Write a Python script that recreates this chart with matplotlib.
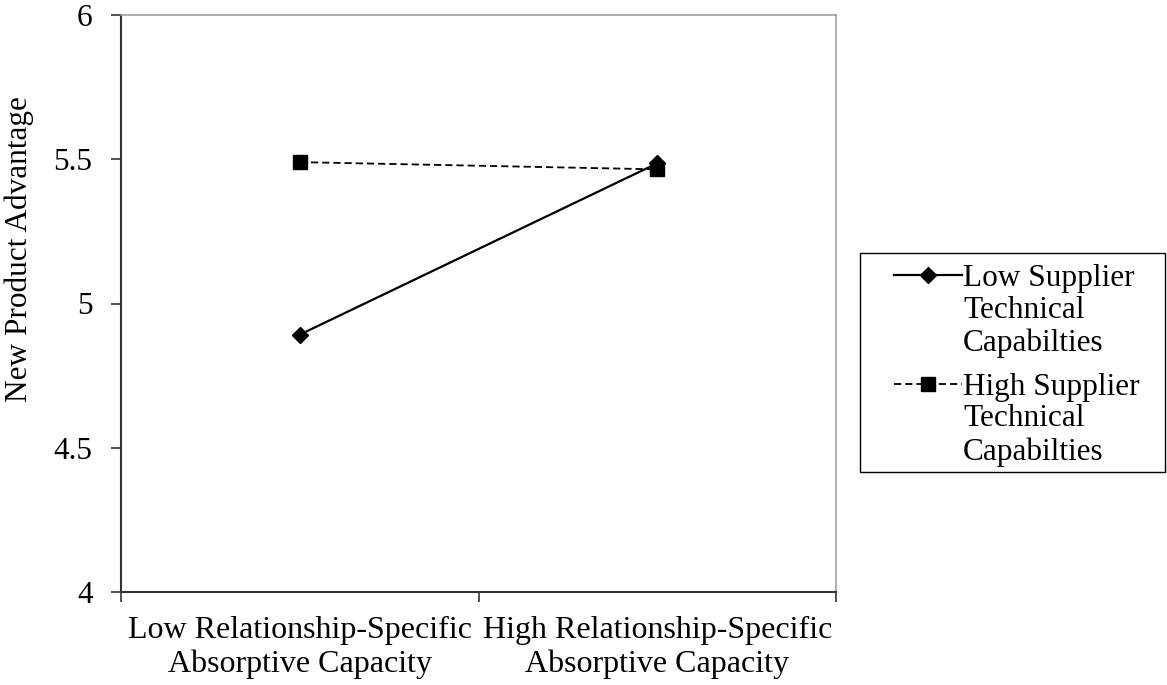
import matplotlib
matplotlib.use("Agg")
import matplotlib.pyplot as plt
from matplotlib.patches import Rectangle

# data
categories = ["Low Relationship-Specific\nAbsorptive Capacity",
              "High Relationship-Specific\nAbsorptive Capacity"]
low_supplier = [4.892, 5.486]
high_supplier = [5.490, 5.465]
series_first = ["Low Supplier", "High Supplier"]
series_rest = "Technical\nCapabilties"
y_ticks = [4, 4.5, 5, 5.5, 6]
y_tick_labels = ["4", "4.5", "5", "5.5", "6"]

plt.rcParams['font.family'] = ['Liberation Serif', 'DejaVu Serif']
FS = 22.5

fig = plt.figure(figsize=(11.67, 6.85), dpi=100)
ax = fig.add_axes([121 / 1167, 1 - 592 / 685, (836 - 121) / 1167, (592 - 15) / 685])

x = [0.5, 1.5]
ax.plot(x, low_supplier, color='black', lw=1.6, marker='D', ms=8,
        label=series_first[0])
ax.plot(x, high_supplier, color='black', lw=1.3, ls=(0, (4, 2.2)), marker='s', ms=10.5,
        label=series_first[1])

ax.set_xlim(0, 2)
ax.set_ylim(4, 6)
ax.set_yticks(y_ticks)
ax.set_yticklabels(y_tick_labels, fontsize=FS)
ax.set_xticks([0, 1, 2])
ax.set_xticklabels([])
ax.set_xticks(x, minor=True)
ax.set_xticklabels(categories, minor=True, fontsize=23)
ax.tick_params(axis='x', which='minor', length=0, pad=17)
ax.tick_params(axis='x', which='major', direction='out', length=7, width=1.2, color='#333333')
ax.tick_params(axis='y', direction='out', length=7, width=1.2, color='#333333', pad=13.5)
ax.set_ylabel("New Product Advantage", fontsize=FS)
ax.yaxis.set_label_coords(-0.121, 0.595)

for s in ['left', 'bottom']:
    ax.spines[s].set_color('#333333')
    ax.spines[s].set_linewidth(1.5)
for s in ['top', 'right']:
    ax.spines[s].set_color('#a0a0a0')
    ax.spines[s].set_linewidth(1.2)

leg = fig.legend(loc='upper left', bbox_to_anchor=(894 / 1167, 1 - 264 / 685),
                 frameon=False, fontsize=FS, handlelength=2.18, handletextpad=0.03,
                 labelspacing=2.55, borderpad=0, borderaxespad=0)
# remaining label lines hang under each legend text (anchor = last line baseline)
for t in leg.get_texts():
    fig.add_artist(plt.Annotation(series_rest, xy=(0, 0), xycoords=t,
                                  xytext=(0, -58), textcoords='offset pixels',
                                  va='baseline', ha='left', fontsize=FS, linespacing=1.17,
                                  zorder=10))

fig.patches.append(Rectangle((860 / 1167, 1 - 472 / 685), (1165 - 860) / 1167, (472 - 253) / 685,
                             transform=fig.transFigure, fill=False, edgecolor='black', lw=1.0))

fig.savefig("out.png", dpi=100)
